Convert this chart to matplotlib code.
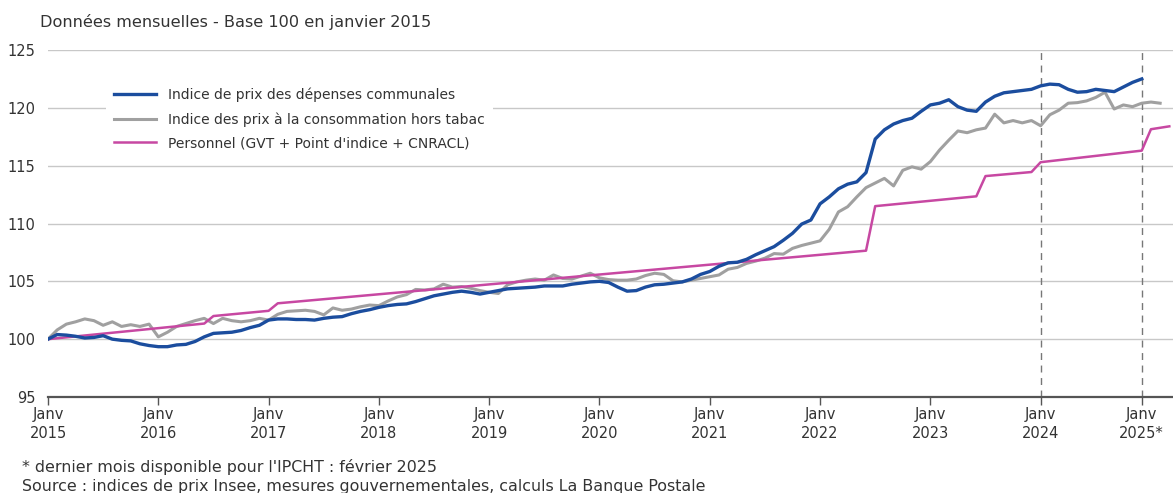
import matplotlib.pyplot as plt

# Données mensuelles (indice de position : 0 = janvier 2015)
communales = [
    100.0, 100.4, 100.35, 100.25, 100.1, 100.15, 100.3, 100.0, 99.9, 99.85, 99.6, 99.45,
    99.35, 99.35, 99.5, 99.55, 99.8, 100.2, 100.5, 100.55, 100.6, 100.75, 101.0, 101.2,
    101.65, 101.75, 101.75, 101.7, 101.7, 101.65, 101.8, 101.9, 101.95, 102.2, 102.4, 102.55,
    102.75, 102.9, 103.0, 103.05, 103.25, 103.5, 103.75, 103.9, 104.05, 104.15, 104.05, 103.9,
    104.05, 104.2, 104.35, 104.4, 104.45, 104.5, 104.6, 104.6, 104.6, 104.75, 104.85, 104.95,
    105.0, 104.9, 104.5, 104.15, 104.2, 104.5, 104.7, 104.75, 104.85, 104.95, 105.2, 105.6,
    105.85, 106.3, 106.6, 106.65, 106.9, 107.3, 107.65, 108.0, 108.55, 109.15, 109.95, 110.3,
    111.7, 112.3, 113.0, 113.4, 113.6, 114.4, 117.3, 118.1, 118.6, 118.9, 119.1, 119.7,
    120.25, 120.4, 120.7, 120.1, 119.8, 119.7, 120.5, 121.0, 121.3, 121.4, 121.5, 121.6,
    121.9, 122.05, 122.0, 121.6, 121.35, 121.4, 121.6, 121.5, 121.4, 121.8, 122.2, 122.5,
]
ipc_hors_tabac = [
    100.0, 100.8, 101.3, 101.5, 101.75, 101.6, 101.2, 101.5, 101.1, 101.25, 101.1, 101.3,
    100.2, 100.6, 101.1, 101.35, 101.6, 101.8, 101.35, 101.8, 101.6, 101.5, 101.6, 101.8,
    101.65, 102.15, 102.4, 102.45, 102.5, 102.4, 102.1, 102.7, 102.5, 102.6, 102.8, 102.95,
    102.9, 103.3, 103.65, 103.85, 104.3, 104.25, 104.35, 104.75, 104.5, 104.55, 104.4, 104.2,
    104.05, 103.95, 104.7, 104.95, 105.1, 105.2, 105.1, 105.55, 105.25, 105.2, 105.45, 105.7,
    105.3, 105.15, 105.1, 105.1, 105.2, 105.5, 105.7, 105.6, 105.05, 104.95, 105.1, 105.25,
    105.4, 105.55, 106.05, 106.2, 106.55, 106.75, 107.0, 107.4, 107.35, 107.85, 108.1, 108.3,
    108.5, 109.5, 111.0, 111.45, 112.3, 113.1, 113.5, 113.9, 113.25, 114.6, 114.9, 114.7,
    115.35, 116.35, 117.2, 118.0, 117.85, 118.1, 118.25, 119.45, 118.7, 118.9, 118.7, 118.9,
    118.45, 119.4, 119.8, 120.4, 120.45, 120.6, 120.9, 121.35, 119.9, 120.25, 120.1, 120.4,
    120.5, 120.4,
]
# Personnel : points de rupture (mois, valeur)
personnel_mois = [0, 17, 18, 24, 25, 89, 90, 101, 102, 107, 108, 119, 120, 122]
personnel = [100.0, 101.35, 102.0, 102.45, 103.1, 107.65, 111.5, 112.35, 114.1, 114.45,
             115.3, 116.3, 118.15, 118.4]

tick_pos = [0, 12, 24, 36, 48, 60, 72, 84, 96, 108, 119]
tick_labels = ["Janv\n2015", "Janv\n2016", "Janv\n2017", "Janv\n2018", "Janv\n2019",
               "Janv\n2020", "Janv\n2021", "Janv\n2022", "Janv\n2023", "Janv\n2024",
               "Janv\n2025*"]
yticks = [95, 100, 105, 110, 115, 120, 125]

txt = "#333333"
plt.rcParams['font.family'] = ['DejaVu Sans']

fig = plt.figure(figsize=(11.73, 4.93), dpi=100)
ax = fig.add_axes([48 / 1173, 1 - 397 / 493, 1 - 48 / 1173, (397 - 50) / 493])

for v in yticks[1:]:
    ax.axhline(v, color="#c8c8c8", lw=1.0, zorder=1)
for p in [108, 119]:
    ax.axvline(p, color="#777777", lw=1.0, ls=(0, (5, 4)), zorder=1)

ax.plot(range(len(communales)), communales, color="#1b4d9e", lw=2.4,
        label="Indice de prix des dépenses communales", zorder=4)
ax.plot(range(len(ipc_hors_tabac)), ipc_hors_tabac, color="#a0a0a0", lw=2.2,
        label="Indice des prix à la consommation hors tabac", zorder=3)
ax.plot(personnel_mois, personnel, color="#c748a2", lw=1.8,
        label="Personnel (GVT + Point d'indice + CNRACL)", zorder=3)

ax.set_xlim(0, 122.4)
ax.set_ylim(95, 125)
for s in ["top", "right", "left"]:
    ax.spines[s].set_visible(False)
ax.spines["bottom"].set_color("#555555")
ax.spines["bottom"].set_linewidth(1.6)
ax.spines["bottom"].set_zorder(5)

ax.set_xticks(tick_pos)
ax.set_xticklabels(tick_labels, fontsize=10.5, color=txt, linespacing=1.35)
ax.tick_params(axis="x", length=6, width=1, color="#555555", pad=1)
ax.set_yticks(yticks)
ax.set_yticklabels([str(v) for v in yticks], fontsize=10.5, color=txt)
ax.tick_params(axis="y", length=0, pad=9)

leg = ax.legend(loc="upper left", bbox_to_anchor=(0.045, 0.935), frameon=True,
                facecolor="white", edgecolor="none", framealpha=1, fontsize=10,
                handlelength=3.0, handletextpad=0.9, labelspacing=0.7,
                borderpad=0.6, fancybox=False)
for t in leg.get_texts():
    t.set_color(txt)
leg.set_zorder(6)

fig.text(40 / 1173, 1 - 22 / 493, "Données mensuelles - Base 100 en janvier 2015",
         fontsize=11.6, color=txt, va="center", ha="left")
fig.text(22 / 1173, 1 - 467 / 493, "* dernier mois disponible pour l'IPCHT : février 2025",
         fontsize=11.4, color=txt, va="center", ha="left")
fig.text(22 / 1173, 1 - 487 / 493,
         "Source : indices de prix Insee, mesures gouvernementales, calculs La Banque Postale",
         fontsize=11.4, color=txt, va="center", ha="left")

fig.savefig("out.png", dpi=100)
